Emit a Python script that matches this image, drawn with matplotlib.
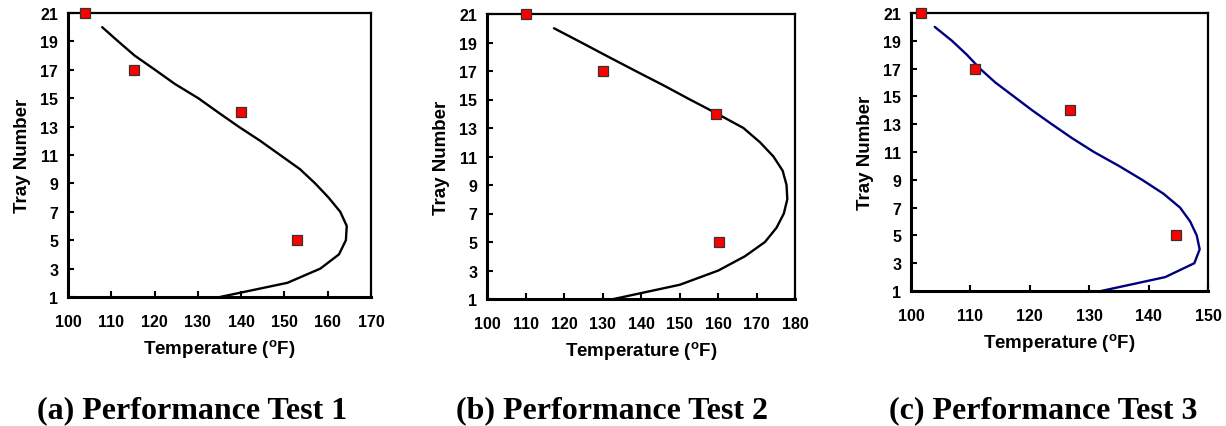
import matplotlib
matplotlib.use("Agg")
import matplotlib.pyplot as plt

trays = list(range(1, 21))

# Panel (a) Performance Test 1
sim1 = [135.1, 150.7, 158.3, 162.6, 164.2, 164.4, 162.9, 160.2, 157.1, 153.6,
        149.0, 144.4, 139.4, 134.7, 130.1, 124.7, 120.1, 115.4, 111.6, 107.9]
meas1_x = [153.0, 139.9, 115.2, 103.9]
meas1_y = [5, 14, 17, 21]

# Panel (b) Performance Test 2
sim2 = [132.9, 150.1, 160.1, 167.0, 172.2, 175.2, 177.1, 178.0, 177.8, 176.8,
        174.4, 170.9, 166.6, 159.8, 152.7, 145.8, 138.6, 131.5, 124.5, 117.4]
meas2_x = [160.3, 159.6, 130.0, 110.0]
meas2_y = [5, 14, 17, 21]

# Panel (c) Performance Test 3
sim3 = [132.0, 142.8, 147.7, 148.6, 148.1, 147.0, 145.3, 142.5, 138.9, 135.0,
        130.8, 127.1, 123.7, 120.4, 117.3, 114.2, 111.6, 109.4, 106.9, 104.0]
meas3_x = [144.6, 126.7, 110.7, 101.7]
meas3_y = [5, 14, 17, 21]

titles = ["(a) Performance Test 1", "(b) Performance Test 2", "(c) Performance Test 3"]
xlims = [(100, 170), (100, 180), (100, 150)]
line_colors = ["black", "black", "#000080"]
yticks = list(range(1, 22, 2))

W, H = 1226, 427
fig = plt.figure(figsize=(W / 100, H / 100), dpi=100)

boxes = [(68, 371, 14, 298), (487, 795, 15, 300), (911, 1208, 14, 292)]
title_x = [192, 612, 1043]

panels = [(sim1, meas1_x, meas1_y), (sim2, meas2_x, meas2_y), (sim3, meas3_x, meas3_y)]

for i, (sim, mx, my) in enumerate(panels):
    l, r, t, b = boxes[i]
    ax = fig.add_axes([l / W, (H - b) / H, (r - l) / W, (b - t) / H])
    ax.plot(sim, trays, color=line_colors[i], lw=1.7, zorder=2,
            solid_joinstyle="round", solid_capstyle="round")
    ax.plot(mx, my, ls="none", marker="s", ms=7.5, mfc="#ff0000", mec="#333333",
            mew=0.9, zorder=5, clip_on=False)
    ax.set_xlim(*xlims[i])
    ax.set_ylim(1, 21)
    ax.set_xticks(list(range(xlims[i][0], xlims[i][1] + 1, 10)))
    ax.set_yticks(yticks)
    ax.tick_params(axis="x", direction="in", length=4, width=1.5, pad=12)
    ax.tick_params(axis="y", direction="in", length=4, width=1.5, pad=7)
    for lab in ax.get_xticklabels() + ax.get_yticklabels():
        lab.set_fontfamily("Liberation Sans")
        lab.set_fontweight("bold")
        lab.set_fontsize(11.5)
    ax.spines["left"].set_linewidth(2.2)
    ax.spines["bottom"].set_linewidth(2.2)
    ax.spines["top"].set_linewidth(1.6)
    ax.spines["right"].set_linewidth(1.6)
    ax.set_xlabel("Temperature ($\\mathregular{^o}$F)", fontfamily="Liberation Sans",
                  fontweight="bold", fontsize=13.5, labelpad=6)
    ax.set_ylabel("Tray Number", fontfamily="Liberation Sans", fontweight="bold",
                  fontsize=13.5, labelpad=7)
    fig.text(title_x[i] / W, (H - 411) / H, titles[i], ha="center", va="center",
             fontfamily="Liberation Serif", fontweight="bold", fontsize=23)

fig.savefig("out.png", dpi=100)
